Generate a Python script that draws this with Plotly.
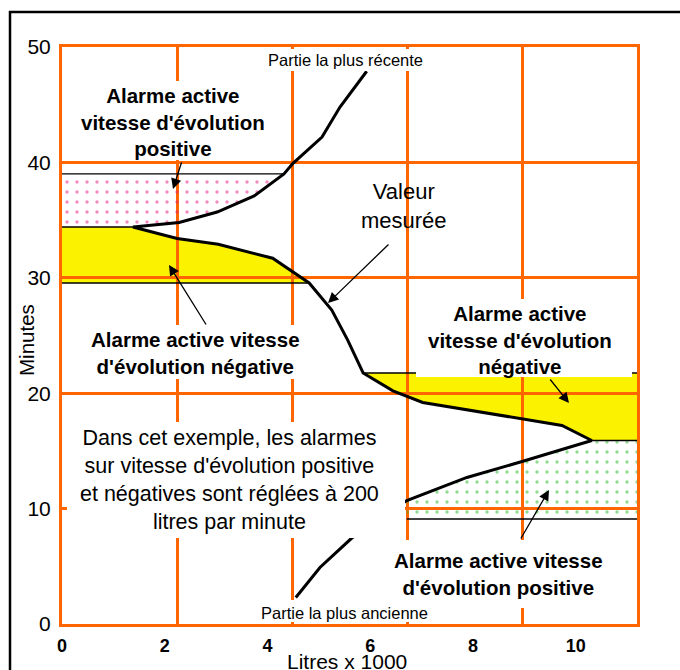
import plotly.graph_objects as go

# Measured value trace, oldest sample first (bottom) to most recent (top)
litres = [4.55, 5.02, 5.64, 6.71, 7.88, 8.97, 10.31, 9.73, 7.02, 6.44, 5.86,
          5.56, 5.25, 4.81, 4.10, 3.04, 2.24, 1.38, 2.28, 3.02, 3.74, 4.32,
          4.49, 5.06, 5.41, 5.93]
minutes = [2.3, 4.9, 7.45, 10.7, 12.7, 14.1, 15.9, 17.2, 19.2, 20.2, 21.75,
           24.6, 27.2, 29.55, 31.7, 32.9, 33.4, 34.4, 34.8, 35.7, 37.1, 39.0,
           39.9, 42.2, 44.8, 47.9]

# Alarm band limits (minutes)
pos_top_left = 39.0
neg_top_left = 34.4
neg_bottom_left = 29.55
neg_top_right = 21.75
pos_top_right = 15.9
pos_bottom_right = 9.1

x_ticks = [0, 2, 4, 6, 8, 10]
y_ticks = [0, 10, 20, 30, 40, 50]
x_max = 11.19
y_max = 50

ORANGE = "#ff6600"
YELLOW = "#fbf200"
PINK = "#e6157f"
GREEN = "#22b822"
FONT = "Liberation Sans, Arial, sans-serif"

W_FIG, H_FIG = 680, 670
M_L, M_R, M_T, M_B = 62, 43, 47, 46
PW = W_FIG - M_L - M_R
PH = H_FIG - M_T - M_B


def paper(px, py):
    """Convert page pixel position to paper coordinates."""
    return (px - M_L) / PW, (M_T + PH - py) / PH


fig = go.Figure()

# Yellow bands (negative rate alarm), drawn beneath the grid
def band_path(xs, ys):
    pts = " L ".join(f"{x},{y}" for x, y in zip(xs, ys))
    return f"M {pts} Z"

yellow_left_x = [0] + litres[13:18] + [0]
yellow_left_y = [neg_bottom_left] + minutes[13:18] + [neg_top_left]
yellow_right_x = litres[6:11] + [x_max, x_max]
yellow_right_y = minutes[6:11] + [neg_top_right, pos_top_right]

shapes = []
for xs, ys in [(yellow_left_x, yellow_left_y), (yellow_right_x, yellow_right_y)]:
    shapes.append(dict(type="path", path=band_path(xs, ys), xref="x", yref="y",
                       fillcolor=YELLOW, line=dict(width=0), layer="below"))

# Dotted bands (positive rate alarm)
pink_x = [0] + litres[17:22] + [0]
pink_y = [neg_top_left] + minutes[17:22] + [pos_top_left]
green_x = litres[3:7] + [x_max, x_max, litres[3]]
green_y = minutes[3:7] + [pos_top_right, pos_bottom_right, pos_bottom_right]

for xs, ys, col in [(pink_x, pink_y, PINK), (green_x, green_y, GREEN)]:
    fig.add_trace(go.Scatter(
        x=xs, y=ys, mode="none", fill="toself", fillcolor="rgba(255,255,255,0)",
        fillpattern=dict(shape=".", fgcolor=col, size=10, solidity=0.09),
        hoverinfo="skip", showlegend=False))

# Thin black band limits
limits = [
    ([0, litres[21]], pos_top_left),
    ([0, litres[17]], neg_top_left),
    ([0, litres[13]], neg_bottom_left),
    ([litres[10], x_max], neg_top_right),
    ([litres[6], x_max], pos_top_right),
    ([litres[3], x_max], pos_bottom_right),
]
for xs, yv in limits:
    fig.add_trace(go.Scatter(x=xs, y=[yv, yv], mode="lines",
                             line=dict(color="black", width=1.3),
                             hoverinfo="skip", showlegend=False))

# Measured value
fig.add_trace(go.Scatter(x=litres, y=minutes, mode="lines",
                         line=dict(color="black", width=3),
                         hoverinfo="skip", showlegend=False))

# White label boxes masking the grid (page pixels: x0, y0, x1, y1)
label_boxes = [
    (72, 81, 284, 160),
    (262, 49, 428, 71),
    (80, 325, 308, 379),
    (416, 299, 632, 377),
    (67, 422, 405, 538),
    (390, 540, 612, 608),
    (255, 600, 432, 622),
]
for x0, y0, x1, y1 in label_boxes:
    px0, py0 = paper(x0, y1)
    px1, py1 = paper(x1, y0)
    shapes.append(dict(type="rect", xref="paper", yref="paper",
                       x0=px0, y0=py0, x1=px1, y1=py1,
                       fillcolor="white", line=dict(width=0), layer="above"))

# Outer black frame
fx0, fy0 = paper(10, 700)
fx1, fy1 = paper(700, 12)
shapes.append(dict(type="rect", xref="paper", yref="paper",
                   x0=fx0, y0=fy0, x1=fx1, y1=fy1,
                   line=dict(color="black", width=2.5), fillcolor="rgba(0,0,0,0)",
                   layer="above"))

annotations = []

def label(text, px, py, size, bold=False, angle=0):
    x, y = paper(px, py)
    annotations.append(dict(
        text=text, x=x, y=y, xref="paper", yref="paper", showarrow=False,
        xanchor="center", yanchor="middle", align="center", textangle=angle,
        font=dict(family=FONT, size=size, color="black",
                  weight="bold" if bold else "normal")))

label("Alarme active<br>vitesse d'évolution<br>positive", 173, 122, 20.5, True)
label("Alarme active vitesse<br>d'évolution négative", 195, 353, 20.5, True)
label("Alarme active<br>vitesse d'évolution<br>négative", 520, 340, 20.5, True)
label("Alarme active vitesse<br>d'évolution positive", 498, 574, 20.5, True)
label("Dans cet exemple, les alarmes<br>sur vitesse d'évolution positive<br>"
      "et négatives sont réglées à 200<br>litres par minute", 229, 480, 21.5)
label("Valeur<br>mesurée", 404, 206, 22)
label("Partie la plus récente", 345, 60, 16.5)
label("Partie la plus ancienne", 344, 613, 16.5)
label("Minutes", 27, 340, 20.5, angle=-90)
label("Litres x 1000", 347, 661, 21)


def arrow(tail, tip):
    x, y = paper(*tip)
    annotations.append(dict(
        text="", x=x, y=y, xref="paper", yref="paper", showarrow=True,
        ax=tail[0] - tip[0], ay=tail[1] - tip[1], axref="pixel", ayref="pixel",
        arrowhead=2, arrowsize=1.6, arrowwidth=1.3, arrowcolor="black",
        standoff=0, startstandoff=0))

arrow((182, 161), (173, 189))
arrow((207, 326), (169, 265))
arrow((390, 243), (328, 303))
arrow((549, 378), (569, 403))
arrow((520, 540), (549, 490))

fig.update_layout(
    width=W_FIG, height=H_FIG,
    margin=dict(l=M_L, r=M_R, t=M_T, b=M_B, pad=0),
    paper_bgcolor="white", plot_bgcolor="white",
    showlegend=False,
    shapes=shapes, annotations=annotations,
    font=dict(family=FONT, color="black"),
    xaxis=dict(range=[0, x_max], tickvals=x_ticks, ticktext=[str(v) for v in x_ticks],
               showgrid=False, zeroline=False, ticks="",
               tickfont=dict(family=FONT, size=18, color="black", weight="bold"),
               ticklabelstandoff=3,
               minor=dict(tickvals=[x_max * k / 5 for k in range(1, 5)],
                          showgrid=True, gridcolor=ORANGE, gridwidth=3, ticks=""),
               showline=True, linecolor=ORANGE, linewidth=3, mirror=True,
               automargin=False, fixedrange=True),
    yaxis=dict(range=[0, y_max], tickvals=y_ticks, showgrid=True,
               gridcolor=ORANGE, gridwidth=3, zeroline=False, ticks="",
               tickfont=dict(family=FONT, size=21, color="black"),
               ticklabelstandoff=4,
               showline=True, linecolor=ORANGE, linewidth=3, mirror=True,
               automargin=False, fixedrange=True),
)

fig.write_html("out.html")
